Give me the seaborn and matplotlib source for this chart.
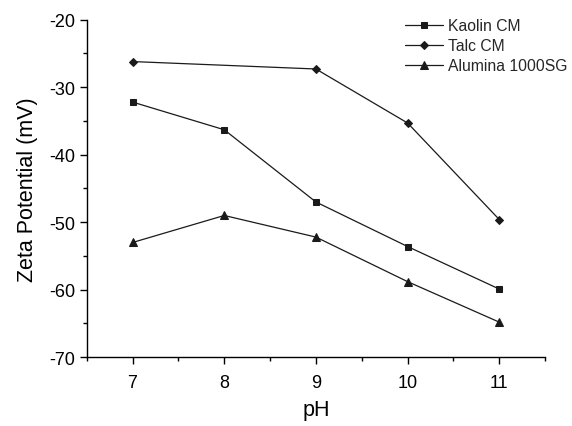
import matplotlib
matplotlib.use("Agg")
import matplotlib.pyplot as plt
from matplotlib.ticker import MultipleLocator
import seaborn as sns
import pandas as pd
import numpy as np

ph = [7, 8, 9, 10, 11]
kaolin = [-32.2, -36.3, -47.0, -53.6, -59.9]
talc = [-26.2, np.nan, -27.3, -35.3, -49.6]
alumina = [-53.0, -49.0, -52.2, -58.8, -64.8]
series_names = ["Kaolin CM", "Talc CM", "Alumina 1000SG"]

rows = []
for name, vals in zip(series_names, [kaolin, talc, alumina]):
    for x, v in zip(ph, vals):
        if not np.isnan(v):
            rows.append({"pH": x, "Zeta": v, "Sample": name})
df = pd.DataFrame(rows)

sns.set_theme(style="white")
plt.rcParams["font.family"] = ["Liberation Sans", "DejaVu Sans"]
plt.rcParams["axes.unicode_minus"] = False

fig = plt.figure(figsize=(5.72, 4.27), dpi=100)
ax = fig.add_axes([0.1516, 0.161, 0.8014, 0.7905])

color = "#1a1a1a"
sns.lineplot(data=df, x="pH", y="Zeta", hue="Sample", style="Sample",
             hue_order=series_names, style_order=series_names,
             palette=[color] * 3, markers={"Kaolin CM": "s", "Talc CM": "D", "Alumina 1000SG": "^"},
             dashes=False, markersize=5, linewidth=0.9, markeredgecolor=color,
             ax=ax, sort=True, legend=True)

sizes = {"D": 4.3, "^": 5.2, "s": 4.0}
for line in ax.lines:
    m = line.get_marker()
    if m in sizes:
        line.set_markersize(sizes[m])

handles, labels = ax.get_legend_handles_labels()
if ax.get_legend() is not None:
    ax.get_legend().remove()

ax.set_xlim(6.5, 11.5)
ax.set_ylim(-70, -20)
ax.xaxis.set_major_locator(MultipleLocator(1))
ax.xaxis.set_minor_locator(MultipleLocator(0.5))
ax.yaxis.set_major_locator(MultipleLocator(10))
ax.yaxis.set_minor_locator(MultipleLocator(5))

for s in ["top", "right"]:
    ax.spines[s].set_visible(False)
for s in ["left", "bottom"]:
    ax.spines[s].set_color("black")
    ax.spines[s].set_linewidth(1.0)

ax.tick_params(axis="both", which="major", direction="out", length=5, width=1,
               color="black", labelsize=13, labelcolor="black", left=True, bottom=True, pad=3)
ax.tick_params(axis="x", which="major", pad=7)
ax.tick_params(axis="both", which="minor", direction="out", length=3, width=1,
               color="black", left=True, bottom=True)

ax.set_xlabel("pH", fontsize=15.5, color="black", labelpad=6)
ax.set_ylabel("Zeta Potential (mV)", fontsize=15.5, color="black", labelpad=8)

for h in handles:
    m = h.get_marker()
    if m in sizes:
        h.set_markersize(sizes[m])

leg = fig.legend(handles, labels, loc="upper left", bbox_to_anchor=(0.708, 1 - 19 / 427),
                 frameon=False, fontsize=11.3, handlelength=2.4, handletextpad=0.36,
                 labelspacing=0.32, borderpad=0, borderaxespad=0)

fig.savefig("out.png", dpi=100)
